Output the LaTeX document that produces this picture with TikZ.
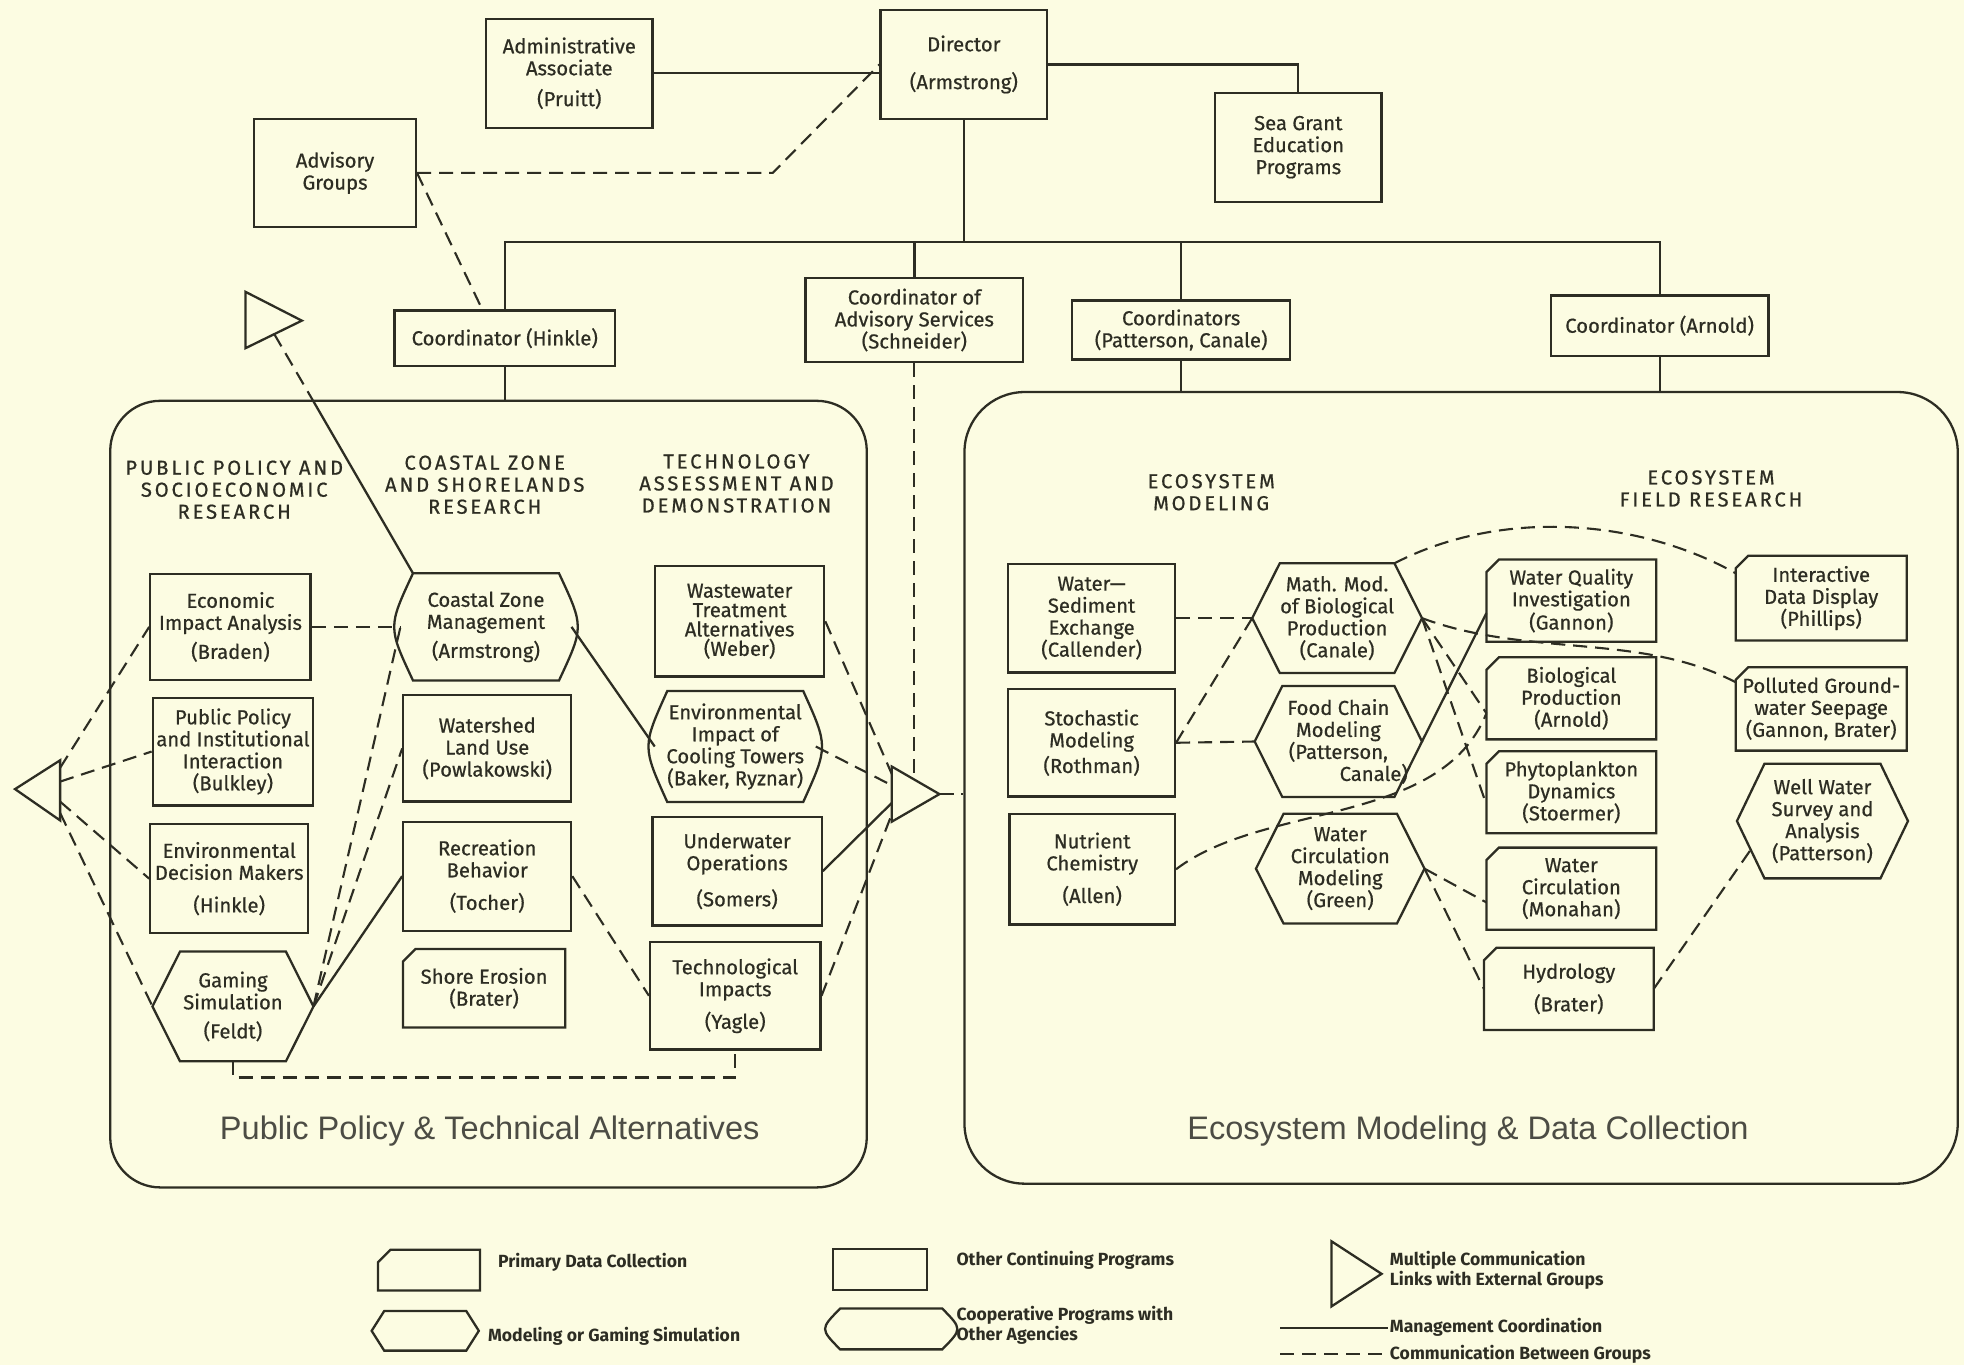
\documentclass[tikz,border=0pt]{standalone}
\usepackage{fontspec}
\setmainfont{Fira Sans}
\newfontfamily\cellfamily[FakeBold=0.6]{Fira Sans}
\newfontfamily\headfamily[LetterSpace=14, FakeBold=0.6]{Fira Sans}
\newfontfamily\regionfont{Liberation Sans}
\usetikzlibrary{positioning,calc}

\definecolor{paper}{RGB}{252,252,226}
\definecolor{ink}{RGB}{45,45,35}

\newcommand{\cellfont}{\cellfamily\fontsize{11.5}{12.5}\selectfont}
\newcommand{\titlefont}{\headfamily\fontsize{11.5}{12.5}\selectfont}
\newcommand{\legfont}{\fontsize{10}{11.5}\selectfont\bfseries}

\tikzset{
  mgmt/.style={draw=ink, line width=1.3pt},
  comm/.style={draw=ink, line width=1.2pt, dash pattern=on 8pt off 4.5pt},
  cell/.style={inner sep=0pt, align=center, text=ink, font=\cellfont},
  prog/.style={cell, mgmt},
  tight/.style={font=\cellfamily\fontsize{11.5}{11}\selectfont},
  sz/.style 2 args={minimum width=#1*0.25mm, minimum height=#2*0.25mm},
  region/.style={mgmt, rounded corners=10mm, inner sep=0pt},
  regionlabel/.style={text=ink!85, font=\regionfont\fontsize{18.5}{20}\selectfont},
  grouptitle/.style={align=center, text=ink, font=\titlefont},
  legtext/.style={inner sep=1pt, align=left, text=ink, font=\legfont},
}

% outlines of the non-rectangular program shapes
\newcommand{\hexbox}[2][5.5mm]{%
  \draw[mgmt] ([xshift=#1]#2.north west) -- ([xshift=-#1]#2.north east) -- (#2.east)
    -- ([xshift=-#1]#2.south east) -- ([xshift=#1]#2.south west) -- (#2.west) -- cycle;}
\newcommand{\primbox}[2][2.5mm]{%
  \draw[mgmt] ([xshift=#1]#2.north west) -- (#2.north east) -- (#2.south east)
    -- (#2.south west) -- ([yshift=-#1]#2.north west) -- cycle;}
\newcommand{\coopbox}[2][2.5mm]{%
  \draw[mgmt] ([xshift=#1]#2.north west) -- ([xshift=-#1]#2.north east)
    .. controls ([xshift=#1]#2.east) .. ([xshift=-#1]#2.south east)
    -- ([xshift=#1]#2.south west)
    .. controls ([xshift=-#1]#2.west) .. ([xshift=#1]#2.north west) -- cycle;}

\begin{document}
\begin{tikzpicture}[x=0.25mm, y=-0.25mm]
\fill[paper] (0,0) rectangle (1568,1090);

% Management boxes
\node[prog, sz={133}{87}] (dir) at (769.5,51.5) {Director\\[9pt](Armstrong)};
\node[prog, sz={133}{87}] (adm) at (454.5,58.5) {Administrative\\Associate\\[5pt](Pruitt)};
\node[prog, sz={129}{86}] (adv) at (267.5,138) {Advisory\\Groups};
\node[prog, sz={133}{87}] (sg) at (1036.5,117.5) {Sea Grant\\Education\\Programs};
\node[prog, sz={176}{44}] (chk) at (403,270) {Coordinator (Hinkle)};
\node[prog, sz={174}{67}] (cas) at (730,255.5) {Coordinator of\\Advisory Services\\(Schneider)};
\node[prog, sz={174}{47}] (cpc) at (943,263.5) {Coordinators\\(Patterson, Canale)};
\node[prog, sz={174}{48}] (car) at (1325,260) {Coordinator (Arnold)};

% The two program areas
\node[region, sz={604}{628}] (lbox) at (390,634) {};
\node[region, sz={793}{632}, rounded corners=12mm] (rbox) at (1166.5,629) {};
\node[regionlabel] (ltitle) at (391,903) {Public Policy \& Technical Alternatives};
\node[regionlabel] (rtitle) at (1172,903) {Ecosystem Modeling \& Data Collection};

% Management lines
\coordinate (bus) at (770,193);
\draw[mgmt] (dir.south) -- (dir.south |- bus);
\draw[mgmt] (chk.north) -- (chk.north |- bus) -- (car.north |- bus) -- (car.north);
\draw[mgmt] (cas.north) -- (cas.north |- bus);
\draw[mgmt] (cpc.north) -- (cpc.north |- bus);
\draw[mgmt] (adm.east) -- (adm.east -| dir.west);
\draw[mgmt] (dir.east) -| (sg.north);
\draw[mgmt] (chk.south) -- (chk.south |- lbox.north);
\draw[mgmt] (cpc.south) -- (cpc.south |- rbox.north);
\draw[mgmt] (car.south) -- (car.south |- rbox.north);

% Advisory links
\coordinate (advbend) at (617,138);
\draw[comm] (adv.east) -- (advbend) -- (dir.west);
\draw[comm] (adv.east) -- ([xshift=-4.5mm]chk.north);

% Public policy column
\node[grouptitle] (tpol) at (187,391) {PUBLIC POLICY AND\\SOCIOECONOMIC\\RESEARCH};
\node[prog, sz={128}{85}] (eia) at (184,500.5) {Economic\\Impact Analysis\\[4pt](Braden)};
\node[prog, sz={128}{86}] (ppi) at (186,600) {Public Policy\\and Institutional\\Interaction\\(Bulkley)};
\node[prog, sz={126}{87}] (edm) at (183,701.5) {Environmental\\Decision Makers\\[6pt](Hinkle)};
\node[cell, sz={128}{87}] (gam) at (186,803.5) {Gaming\\Simulation\\[4pt](Feldt)};
\hexbox{gam}

% Coastal zone column
\node[grouptitle] (tcst) at (387,387) {COASTAL ZONE\\AND SHORELANDS\\RESEARCH};
\node[cell, sz={136}{85}] (czm) at (388,500.5) {Coastal Zone\\Management\\[4pt](Armstrong)};
\node[prog, sz={134}{85}] (wlu) at (389,597.5) {Watershed\\Land Use\\(Powlakowski)};
\node[prog, sz={134}{87}] (rec) at (389,699.5) {Recreation\\Behavior\\[6pt](Tocher)};
\node[cell, sz={129}{62}] (sho) at (386.5,789) {Shore Erosion\\(Brater)};
\coopbox{czm}
\primbox{sho}

% Technology column
\node[grouptitle] (ttec) at (588,386) {TECHNOLOGY\\ASSESSMENT AND\\DEMONSTRATION};
\node[prog, sz={135}{88}, tight] (wwt) at (590.5,496) {Wastewater\\Treatment\\Alternatives\\(Weber)};
\node[cell, sz={128}{88}] (eic) at (587,596) {Environmental\\Impact of\\Cooling Towers\\(Baker, Ryznar)};
\node[prog, sz={135}{87}] (uwo) at (588.5,695.5) {Underwater\\Operations\\[8pt](Somers)};
\node[prog, sz={136}{86}] (tec) at (587,795) {Technological\\Impacts\\[6pt](Yagle)};
\coopbox{eic}

% External link triangles
\draw[mgmt] (12,630) -- (48,607) -- (48,655) -- cycle;
\coordinate (xl1) at (48,613);
\coordinate (xl2) at (48,624);
\coordinate (xl3) at (48,640);
\coordinate (xl4) at (48,649);
\draw[mgmt] (196,233) -- (241,256) -- (196,278) -- cycle;
\coordinate (xu) at (219,266.8);
\coordinate (xuin) at (250,320);
\draw[mgmt] (712,612) -- (750,634) -- (712,656) -- cycle;
\coordinate (xm1) at (712,618);
\coordinate (xm2) at (712,627);
\coordinate (xm3) at (712,641);
\coordinate (xm4) at (712,650);
\coordinate (xmtop) at (730,622.4);
\coordinate (xmapex) at (750,634);

% Links in the left area
\draw[comm] (xl1) -- (eia.west);
\draw[comm] (xl2) -- (ppi.west);
\draw[comm] (xl3) -- (edm.west);
\draw[comm] (xl4) -- (gam.west);
\draw[comm] (xu) -- (xuin);
\draw[mgmt] (xuin) -- ([xshift=2.5mm]czm.north west);
\draw[comm] (eia.east) -- (czm.west);
\draw[comm] (gam.east) -- (czm.west);
\draw[comm] (gam.east) -- (wlu.west);
\draw[mgmt] (gam.east) -- (rec.west);
\draw[mgmt] (czm.east) -- (eic.west);
\draw[comm] (rec.east) -- (tec.west);
\draw[comm] (gam.south) -- ++(0,13) -| (tec.south);
\draw[comm] (wwt.east) -- (xm1);
\draw[comm] (eic.east) -- (xm2);
\draw[mgmt] (uwo.east) -- (xm3);
\draw[comm] (tec.east) -- (xm4);
\draw[comm] (cas.south) -- (cas.south |- xmtop);
\draw[comm] (xmapex) -- (xmapex -| rbox.west);

% Ecosystem modeling column
\node[grouptitle] (teco) at (967,393) {ECOSYSTEM\\MODELING};
\node[prog, sz={133}{87}] (wse) at (871.5,493.5) {Water—\\Sediment\\Exchange\\(Callender)};
\node[prog, sz={133}{86}] (sto) at (871.5,593) {Stochastic\\Modeling\\[2pt](Rothman)};
\node[prog, sz={132}{88}] (nut) at (872,694) {Nutrient\\Chemistry\\[6pt](Allen)};
\node[cell, sz={135}{87}] (mmb) at (1067.5,493.5) {Math. Mod.\\of Biological\\Production\\(Canale)};
\node[cell, sz={133}{88}] (fcm) at (1068.5,592) {Food Chain\\Modeling\\(Patterson,\\\hspace*{3.5em}Canale)};
\node[cell, sz={134}{87}] (wcm) at (1070,693.5) {Water\\Circulation\\Modeling\\(Green)};
\hexbox{mmb}
\hexbox{fcm}
\hexbox{wcm}

% Field research columns
\node[grouptitle] (tfld) at (1366,390) {ECOSYSTEM\\FIELD RESEARCH};
\node[cell, sz={135}{65}, tight] (wqi) at (1254.5,479.5) {Water Quality\\Investigation\\(Gannon)};
\node[cell, sz={135}{65}] (bio) at (1254.5,557.5) {Biological\\Production\\(Arnold)};
\node[cell, sz={135}{65}] (phy) at (1254.5,632.5) {Phytoplankton\\Dynamics\\(Stoermer)};
\node[cell, sz={135}{65}] (wcr) at (1254.5,709.5) {Water\\Circulation\\(Monahan)};
\node[cell, sz={135}{65}] (hyd) at (1252.5,789.5) {Hydrology\\[6pt](Brater)};
\node[cell, sz={136}{67}] (idd) at (1454,477.5) {Interactive\\Data Display\\(Phillips)};
\node[cell, sz={136}{66}] (pgs) at (1454,566) {Polluted Ground-\\water Seepage\\(Gannon, Brater)};
\node[cell, sz={136}{91}] (wws) at (1455,655.5) {Well Water\\Survey and\\Analysis\\(Patterson)};
\primbox{wqi}
\primbox{bio}
\primbox{phy}
\primbox{wcr}
\primbox{hyd}
\primbox{idd}
\primbox{pgs}
\hexbox{wws}

% Links in the right area
\draw[comm] (wse.east) -- (mmb.west);
\draw[comm] (sto.east) -- (mmb.west);
\draw[comm] (sto.east) -- (fcm.west);
\draw[comm] (nut.east) .. controls (1010,640) and (1150,660) .. ($(bio.west)+(0,12)$);
\draw[comm] ([xshift=-5.5mm]mmb.north east) .. controls (1200,405) and (1310,415) .. ($(idd.north west)+(0,14)$);
\draw[comm] (mmb.east) .. controls (1220,525) and (1310,505) .. ($(pgs.north west)+(0,12)$);
\draw[comm] (mmb.east) -- ($(bio.west)+(0,12)$);
\draw[comm] (mmb.east) -- ($(phy.west)+(0,10)$);
\draw[mgmt] (fcm.east) -- ($(wqi.west)+(0,10)$);
\draw[comm] (wcm.east) -- ($(wcr.west)+(0,11)$);
\draw[comm] (wcm.east) -- (hyd.west);
\draw[comm] (hyd.east) -- ($(wws.west)!0.5!([xshift=5.5mm]wws.south west)$);

% Legend
\node[cell, sz={81}{32}] (lgprim) at (342.5,1014) {};
\primbox{lgprim}
\node[cell, sz={85}{31}] (lghex) at (339.5,1062.5) {};
\hexbox[2.5mm]{lghex}
\node[prog, sz={75}{33}] (lgrect) at (702.5,1013.5) {};
\node[cell, sz={97}{32}] (lgcoop) at (711.5,1061) {};
\coopbox[2mm]{lgcoop}
\draw[mgmt] (1063,991) -- (1103,1017) -- (1063,1043) -- cycle;
\coordinate (lgm1) at (1022,1060);
\coordinate (lgm2) at (1108,1060);
\coordinate (lgc1) at (1022,1081);
\coordinate (lgc2) at (1108,1081);
\draw[mgmt] (lgm1) -- (lgm2);
\draw[comm] (lgc1) -- (lgc2);
\node[legtext, right] (lgprimtxt) at (396,1008) {Primary Data Collection};
\node[legtext, right] (lghextxt) at (388,1067) {Modeling or Gaming Simulation};
\node[legtext, right] (lgrecttxt) at (762,1006) {Other Continuing Programs};
\node[legtext, right] (lgcooptxt) at (762,1058) {Cooperative Programs with\\Other Agencies};
\node[legtext, right] (lgtritxt) at (1108,1014) {Multiple Communication\\Links with External Groups};
\node[legtext, right] (lgmgmttxt) at (1108,1060) {Management Coordination};
\node[legtext, right] (lgcommtxt) at (1108,1081) {Communication Between Groups};

\end{tikzpicture}
\end{document}
